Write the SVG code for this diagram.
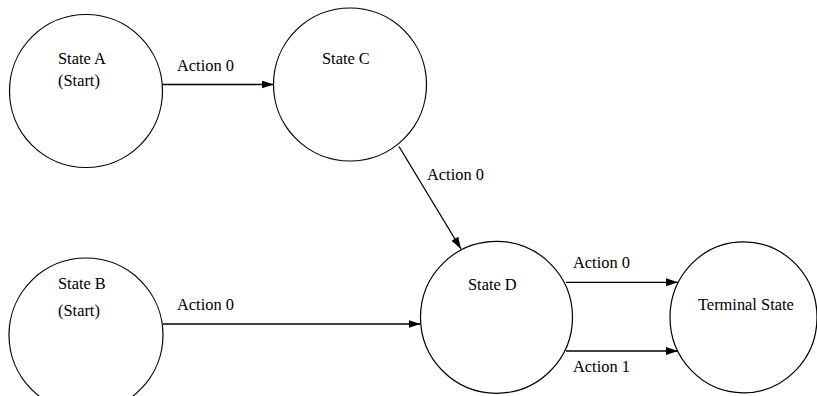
<svg xmlns="http://www.w3.org/2000/svg" width="817" height="396" viewBox="0 0 817 396">
<style>
.node{fill:#fff;stroke:#000;stroke-width:1.2}
text{font-family:"Liberation Serif","Times New Roman",serif;font-size:16.4px;fill:#000}
.edge{stroke:#000;stroke-width:1.3;fill:none;marker-end:url(#ah)}
</style>
<defs>
<marker id="ah" viewBox="0 0 12 8" refX="12" refY="4" markerWidth="12" markerHeight="8" markerUnits="userSpaceOnUse" orient="auto">
<path d="M0,0 L12,4 L0,8 Z" fill="#000"/>
</marker>
</defs>
<rect width="817" height="396" fill="#fff"/>
<g id="stateA">
<circle class="node" cx="86" cy="91" r="76.5"/>
<text x="58" y="64">State A</text>
<text x="58" y="85.5">(Start)</text>
</g>
<g id="stateC">
<circle class="node" cx="350" cy="84.5" r="76.5"/>
<text x="322" y="64">State C</text>
</g>
<g id="stateB">
<circle class="node" cx="86" cy="335" r="77"/>
<text x="58" y="289">State B</text>
<text x="58" y="316">(Start)</text>
</g>
<g id="stateD">
<circle class="node" cx="496.5" cy="317.3" r="76"/>
<text x="468" y="290">State D</text>
</g>
<g id="terminal">
<ellipse class="node" cx="743.5" cy="317.3" rx="73.5" ry="75.5"/>
<text x="698" y="310">Terminal State</text>
</g>
<g id="connectors">
<line class="edge" x1="163" y1="84.5" x2="273.5" y2="84.5"/>
<text x="177" y="71">Action 0</text>
<line class="edge" x1="399" y1="146.5" x2="461" y2="249"/>
<text x="427" y="180">Action 0</text>
<line class="edge" x1="163" y1="324" x2="420.5" y2="324"/>
<text x="177" y="310">Action 0</text>
<line class="edge" x1="566" y1="282.3" x2="678" y2="282.3"/>
<text x="573" y="268.3">Action 0</text>
<line class="edge" x1="566" y1="351" x2="678" y2="351"/>
<text x="573" y="371.7">Action 1</text>
</g>
</svg>
